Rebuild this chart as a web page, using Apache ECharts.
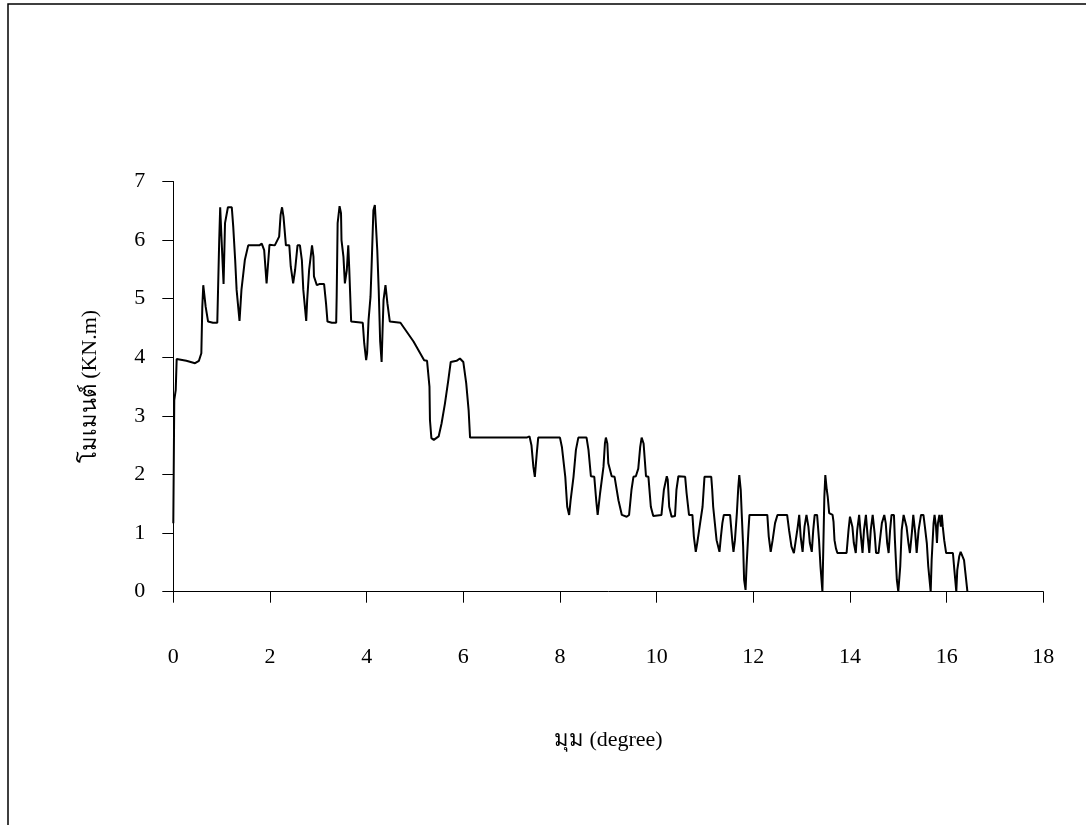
<!DOCTYPE html>
<html>
<head>
<meta charset="utf-8">
<script src="https://cdn.jsdelivr.net/npm/echarts@6/dist/echarts.min.js"></script>
<style>
html,body{margin:0;padding:0;background:#fff;}
#chart{width:1086px;height:825px;}
</style>
</head>
<body>
<div id="chart"></div>
<script>
// angle (degree)
const angles = [
0.00,0.02,0.05,0.07,0.27,0.45,0.53,0.58,0.60,0.62,0.65,0.67,0.72,0.82,0.91,
0.95,0.97,0.99,1.04,1.07,1.13,1.21,1.24,1.28,1.31,1.37,1.41,1.48,1.55,1.78,
1.83,1.88,1.93,1.99,2.10,2.14,2.19,2.22,2.25,2.28,2.33,2.40,2.43,2.48,2.52,
2.57,2.62,2.66,2.69,2.75,2.77,2.81,2.85,2.87,2.90,2.91,2.97,3.02,3.12,3.16,
3.19,3.28,3.37,3.38,3.40,3.44,3.47,3.48,3.52,3.55,3.59,3.62,3.64,3.68,3.92,
3.95,3.99,4.01,4.04,4.08,4.10,4.14,4.17,4.19,4.22,4.25,4.28,4.31,4.33,4.35,
4.39,4.41,4.43,4.48,4.70,4.97,5.19,5.25,5.30,5.31,5.34,5.39,5.49,5.55,5.62,
5.69,5.74,5.86,5.93,6.00,6.06,6.11,6.14,7.31,7.37,7.41,7.45,7.48,7.52,7.55,
8.00,8.04,8.11,8.15,8.19,8.22,8.28,8.33,8.38,8.55,8.59,8.64,8.71,8.75,8.78,
8.83,8.90,8.93,8.95,8.98,9.00,9.07,9.13,9.21,9.28,9.38,9.43,9.48,9.52,9.57,
9.62,9.66,9.69,9.73,9.78,9.83,9.88,9.93,10.10,10.15,10.21,10.23,10.26,10.31,10.38,
10.41,10.45,10.59,10.62,10.67,10.74,10.77,10.81,10.84,10.90,10.95,10.99,11.13,11.15,11.17,
11.24,11.30,11.33,11.36,11.39,11.52,11.54,11.57,11.59,11.62,11.66,11.69,11.71,11.74,11.76,
11.79,11.81,11.84,11.86,11.90,11.92,12.29,12.32,12.36,12.40,12.45,12.50,12.70,12.74,12.79,
12.84,12.88,12.92,12.95,12.98,13.02,13.06,13.10,13.14,13.17,13.21,13.24,13.27,13.32,13.36,
13.39,13.43,13.47,13.49,13.51,13.52,13.54,13.57,13.60,13.64,13.66,13.68,13.71,13.74,13.93,
13.97,14.00,14.02,14.05,14.08,14.12,14.15,14.19,14.22,14.26,14.29,14.33,14.36,14.40,14.43,
14.47,14.51,14.54,14.59,14.62,14.66,14.71,14.74,14.77,14.80,14.83,14.86,14.91,14.93,14.97,
15.00,15.04,15.07,15.11,15.14,15.17,15.21,15.24,15.28,15.31,15.35,15.38,15.42,15.47,15.52,
15.55,15.59,15.62,15.67,15.69,15.73,15.75,15.78,15.80,15.82,15.85,15.88,15.90,15.92,15.95,
15.99,16.13,16.16,16.20,16.22,16.26,16.29,16.33,16.36,16.39,16.43
];
// moment (KN.m)
const moments = [
1.17,3.27,3.44,3.97,3.94,3.90,3.94,4.07,4.86,5.23,5.20,4.86,4.61,4.59,4.59,
6.00,6.56,6.17,5.25,6.29,6.56,6.56,6.23,5.66,5.15,4.62,5.15,5.66,5.91,5.91,
5.94,5.83,5.26,5.92,5.91,5.89,6.06,6.43,6.56,6.40,5.91,5.91,5.55,5.26,5.49,
5.91,5.91,5.66,5.15,4.62,4.98,5.49,5.77,5.91,5.72,5.38,5.23,5.25,5.25,4.92,
4.61,4.59,4.59,5.03,6.29,6.58,6.46,6.00,5.72,5.26,5.49,5.91,5.52,4.61,4.59,
4.24,3.95,4.07,4.64,5.03,5.49,6.51,6.60,6.29,5.83,5.15,4.27,3.92,4.47,4.98,
5.23,5.23,4.92,4.61,4.59,4.27,3.95,3.94,3.50,2.93,2.62,2.59,2.65,2.87,3.21,
3.61,3.92,3.94,3.98,3.92,3.56,3.10,2.63,2.63,2.65,2.50,2.13,1.96,2.36,2.63,
2.63,2.47,1.96,1.45,1.31,1.56,1.96,2.42,2.63,2.63,2.42,1.97,1.96,1.56,1.31,
1.68,2.13,2.53,2.63,2.53,2.19,1.97,1.96,1.56,1.31,1.28,1.31,1.74,1.96,1.97,
2.10,2.47,2.63,2.53,1.97,1.96,1.45,1.29,1.31,1.74,1.97,1.91,1.45,1.28,1.29,
1.74,1.97,1.96,1.68,1.31,1.31,0.94,0.68,0.83,1.17,1.45,1.96,1.96,1.74,1.45,
0.88,0.68,0.94,1.17,1.31,1.31,1.11,0.83,0.68,0.88,1.34,1.79,1.99,1.74,1.34,
0.77,0.20,0.03,0.43,1.05,1.31,1.31,0.94,0.68,0.88,1.17,1.31,1.31,1.05,0.77,
0.66,0.68,1.11,1.31,0.94,0.68,1.11,1.31,1.11,0.83,0.68,1.05,1.31,1.31,0.88,
0.43,0.00,1.62,1.99,1.96,1.74,1.62,1.34,1.31,1.31,1.19,0.88,0.74,0.66,0.66,
1.05,1.28,1.31,1.11,0.83,0.66,1.05,1.31,1.00,0.66,1.05,1.31,1.00,0.66,1.05,
1.31,1.00,0.66,0.66,0.88,1.17,1.31,1.17,0.83,0.66,1.05,1.31,1.31,0.88,0.20,
0.00,0.43,1.05,1.31,1.31,1.11,0.83,0.66,1.00,1.31,1.00,0.66,1.05,1.31,1.31,
1.11,0.83,0.43,0.00,0.54,1.17,1.31,1.11,0.83,1.17,1.31,1.11,1.31,1.11,0.88,
0.66,0.66,0.37,0.00,0.37,0.60,0.68,0.66,0.54,0.31,0.00
];
const xTicks = [0,2,4,6,8,10,12,14,16,18];
const yTicks = [0,1,2,3,4,5,6,7];
const xName = 'มุม (degree)';
const yName = 'โมเมนต์ (KN.m)';

const seriesData = angles.map((a, i) => [a, moments[i]]);
const FONT = '"Liberation Serif", "Times New Roman", "DejaVu Serif", serif';

const chart = echarts.init(document.getElementById('chart'), null, {renderer: 'canvas'});
chart.setOption({
  animation: false,
  backgroundColor: '#ffffff',
  grid: {left: 173.3, right: 42.7, top: 181.5, bottom: 233.3, containLabel: false},
  xAxis: {
    type: 'value',
    min: xTicks[0], max: xTicks[xTicks.length - 1], interval: 2,
    name: xName, nameLocation: 'middle', nameGap: 138,
    nameTextStyle: {fontFamily: FONT, fontSize: 22, color: '#000'},
    axisLine: {onZero: false, lineStyle: {color: '#000', width: 1}},
    axisTick: {show: true, inside: false, length: 11, lineStyle: {color: '#000', width: 1}},
    axisLabel: {margin: 55, fontFamily: FONT, fontSize: 22, color: '#000'},
    splitLine: {show: false}
  },
  yAxis: {
    type: 'value',
    min: yTicks[0], max: yTicks[yTicks.length - 1], interval: 1,
    name: yName, nameLocation: 'middle', nameGap: 72, nameRotate: 90,
    nameTextStyle: {fontFamily: FONT, fontSize: 22, color: '#000'},
    axisLine: {show: true, lineStyle: {color: '#000', width: 1}},
    axisTick: {show: true, inside: false, length: 11, lineStyle: {color: '#000', width: 1}},
    axisLabel: {margin: 28, fontFamily: FONT, fontSize: 22, color: '#000'},
    splitLine: {show: false}
  },
  series: [{
    type: 'line',
    data: seriesData,
    showSymbol: false,
    symbol: 'none',
    smooth: false,
    lineStyle: {color: '#000', width: 2},
    z: 3
  }],
  graphic: [{
    type: 'polyline',
    shape: {points: [[1086, 4], [8, 4], [8, 825]]},
    style: {stroke: '#000', lineWidth: 1.5, fill: null},
    silent: true
  }]
});
</script>
</body>
</html>
